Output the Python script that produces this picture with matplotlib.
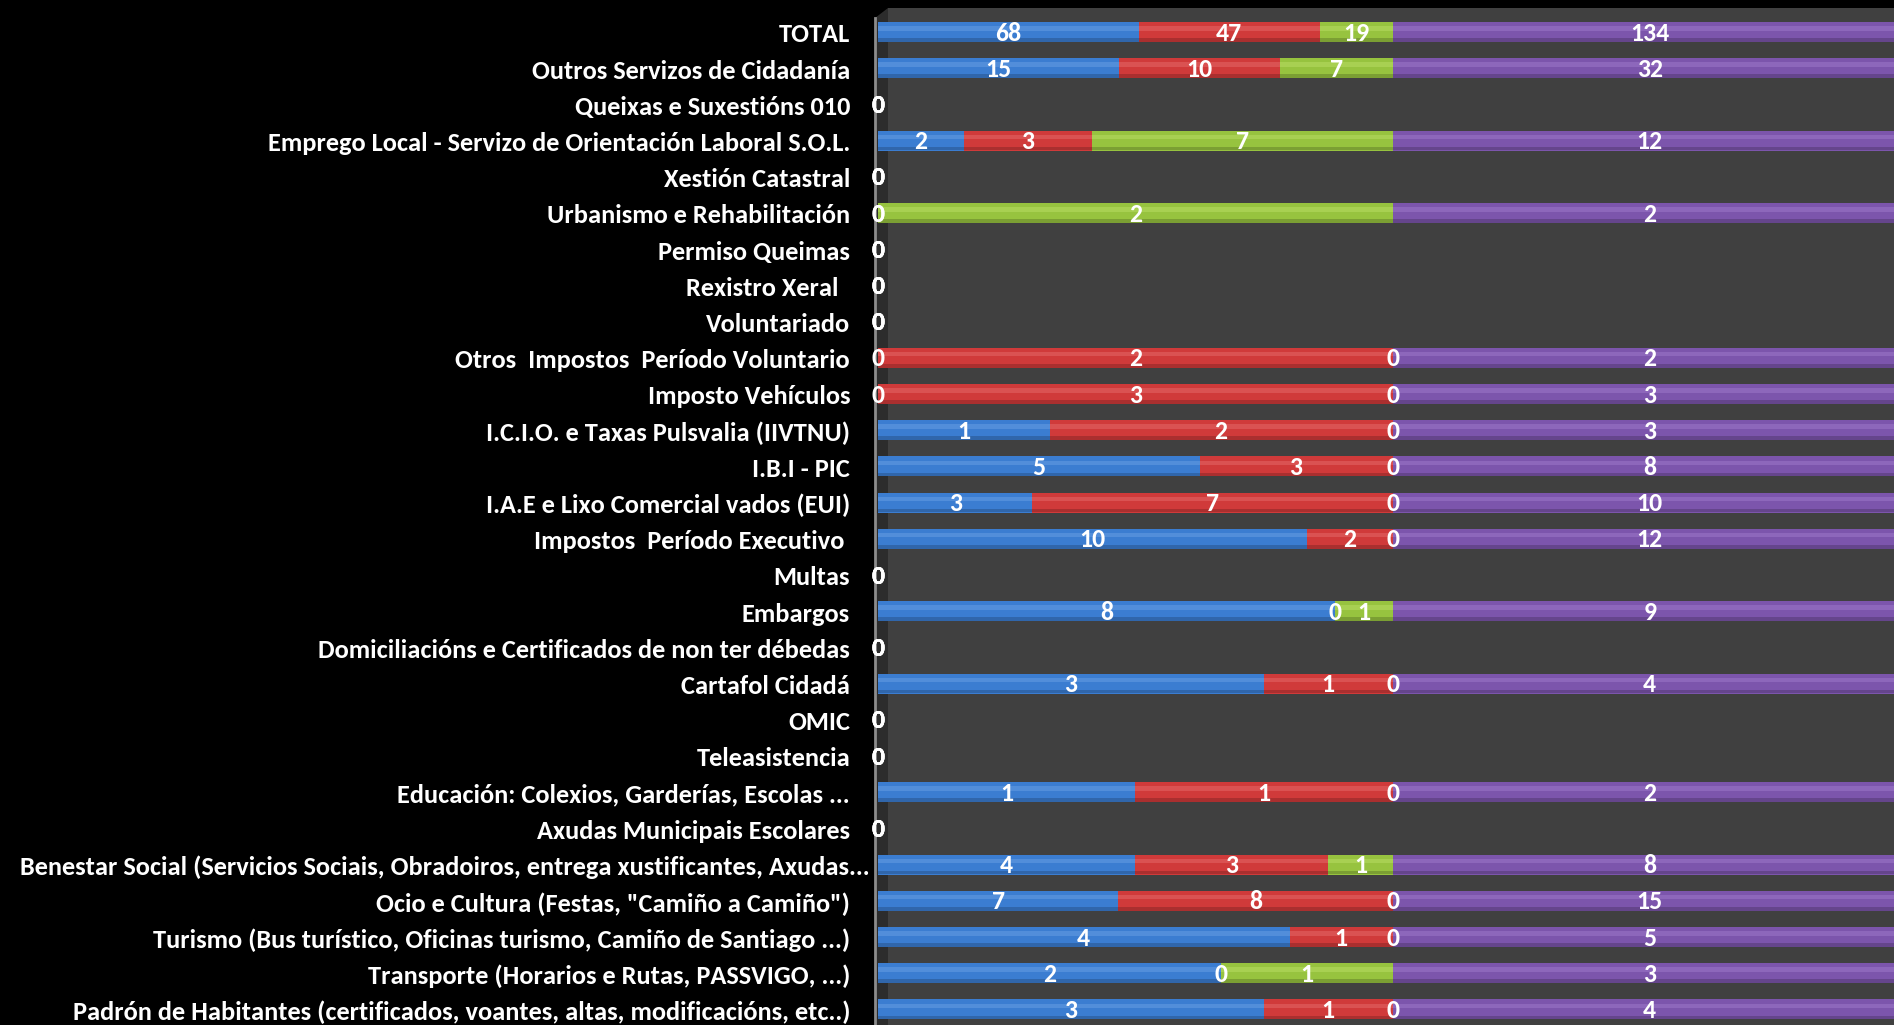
import numpy as np
import matplotlib
matplotlib.use("Agg")
import matplotlib.pyplot as plt
from matplotlib.patches import Rectangle, Polygon

plt.rcParams['font.family'] = ['Carlito', 'Archivo Narrow', 'DejaVu Sans']

####################################################### data (top to bottom)
categories = [
    "TOTAL",
    "Outros Servizos de Cidadanía",
    "Queixas e Suxestións 010",
    "Emprego Local - Servizo de Orientación Laboral S.O.L.",
    "Xestión Catastral",
    "Urbanismo e Rehabilitación",
    "Permiso Queimas",
    "Rexistro Xeral  ",
    "Voluntariado",
    "Otros  Impostos  Período Voluntario",
    "Imposto Vehículos",
    "I.C.I.O. e Taxas Pulsvalia (IIVTNU)",
    "I.B.I - PIC",
    "I.A.E e Lixo Comercial vados (EUI)",
    "Impostos  Período Executivo ",
    "Multas",
    "Embargos",
    "Domiciliacións e Certificados de non ter débedas",
    "Cartafol Cidadá",
    "OMIC",
    "Teleasistencia",
    "Educación: Colexios, Garderías, Escolas ...",
    "Axudas Municipais Escolares",
    "Benestar Social (Servicios Sociais, Obradoiros, entrega xustificantes, Axudas...",
    "Ocio e Cultura (Festas, \"Camiño a Camiño\")",
    "Turismo (Bus turístico, Oficinas turismo, Camiño de Santiago ...)",
    "Transporte (Horarios e Rutas, PASSVIGO, ...)",
    "Padrón de Habitantes (certificados, voantes, altas, modificacións, etc..)",
]
blue   = [68, 15, 0, 2, 0, 0, 0, 0, 0, 0, 0, 1, 5, 3, 10, 0, 8, 0, 3, 0, 0, 1, 0, 4, 7, 4, 2, 3]
red    = [47, 10, 0, 3, 0, 0, 0, 0, 0, 2, 3, 2, 3, 7, 2, 0, 0, 0, 1, 0, 0, 1, 0, 3, 8, 1, 0, 1]
green  = [19, 7, 0, 7, 0, 2, 0, 0, 0, 0, 0, 0, 0, 0, 0, 0, 1, 0, 0, 0, 0, 0, 0, 1, 0, 0, 1, 0]
purple = [134, 32, 0, 12, 0, 2, 0, 0, 0, 2, 3, 3, 8, 10, 12, 0, 9, 0, 4, 0, 0, 2, 0, 8, 15, 5, 3, 4]

series = [blue, red, green, purple]
colors = ["#3b7dd1", "#d03a3a", "#97c33f", "#7c55ac"]
light = ["#6fa4e6", "#e87070", "#bde06a", "#a27fcf"]

####################################################### 100% stacked
vals = np.array(series, dtype=float)
tot = vals.sum(axis=0)
frac = np.divide(vals, tot, out=np.zeros_like(vals), where=tot > 0)

W, H = 1894, 1025
fig = plt.figure(figsize=(W / 100, H / 100), dpi=100, facecolor="black")

# walls of the 3d plot area
fig.patches.append(Rectangle((888 / W, 0), 1 - 888 / W, 1 - 8 / H, transform=fig.transFigure,
                             facecolor="#404040", edgecolor="none", zorder=-5))
fig.patches.append(Polygon([(875 / W, 0), (875 / W, 1 - 18 / H), (888 / W, 1 - 8 / H), (888 / W, 0)],
                           closed=True, transform=fig.transFigure,
                           facecolor="#2c2c2c", edgecolor="none", zorder=-5))
fig.lines.append(plt.Line2D([875 / W, 875 / W], [0, 1 - 18 / H], transform=fig.transFigure,
                            color="#8c8c8c", lw=2, zorder=-4))

ax = fig.add_axes([878 / W, 0, (1907 - 878) / W, 1])
ax.set_zorder(5)
ax.set_facecolor("none")
y = np.arange(len(categories))
left = np.zeros(len(categories))
for k in range(4):
    ax.barh(y, frac[k], left=left, height=0.55, color=colors[k], edgecolor="none", zorder=2)
    ax.barh(y - 0.1, frac[k], left=left, height=0.12, color=light[k], alpha=0.45,
            edgecolor="none", zorder=3)
    ax.barh(y + 0.22, frac[k], left=left, height=0.1, color="black", alpha=0.18,
            edgecolor="none", zorder=3)
    for i in range(len(categories)):
        ax.text(left[i] + frac[k][i] / 2, y[i] + 0.03, str(series[k][i]), color="white",
                fontsize=18.5, fontweight="bold", ha="center", va="center", zorder=5, clip_on=False)
    left = left + frac[k]

# category labels (the long one sits a bit further right, like in excel)
for i, c in enumerate(categories):
    xpos = -0.0078 if c.startswith("Benestar") else -0.0272
    ax.text(xpos, y[i] + 0.08, c, color="white", fontsize=19, fontweight="bold",
            ha="right", va="center", transform=ax.get_yaxis_transform(), clip_on=False)

ax.set_xlim(0, 1)
ax.set_ylim(27.43, -0.884)
ax.set_yticks([])
ax.set_xticks([])
for s in ax.spines.values():
    s.set_visible(False)

fig.savefig("out.png", dpi=100, facecolor="black")
